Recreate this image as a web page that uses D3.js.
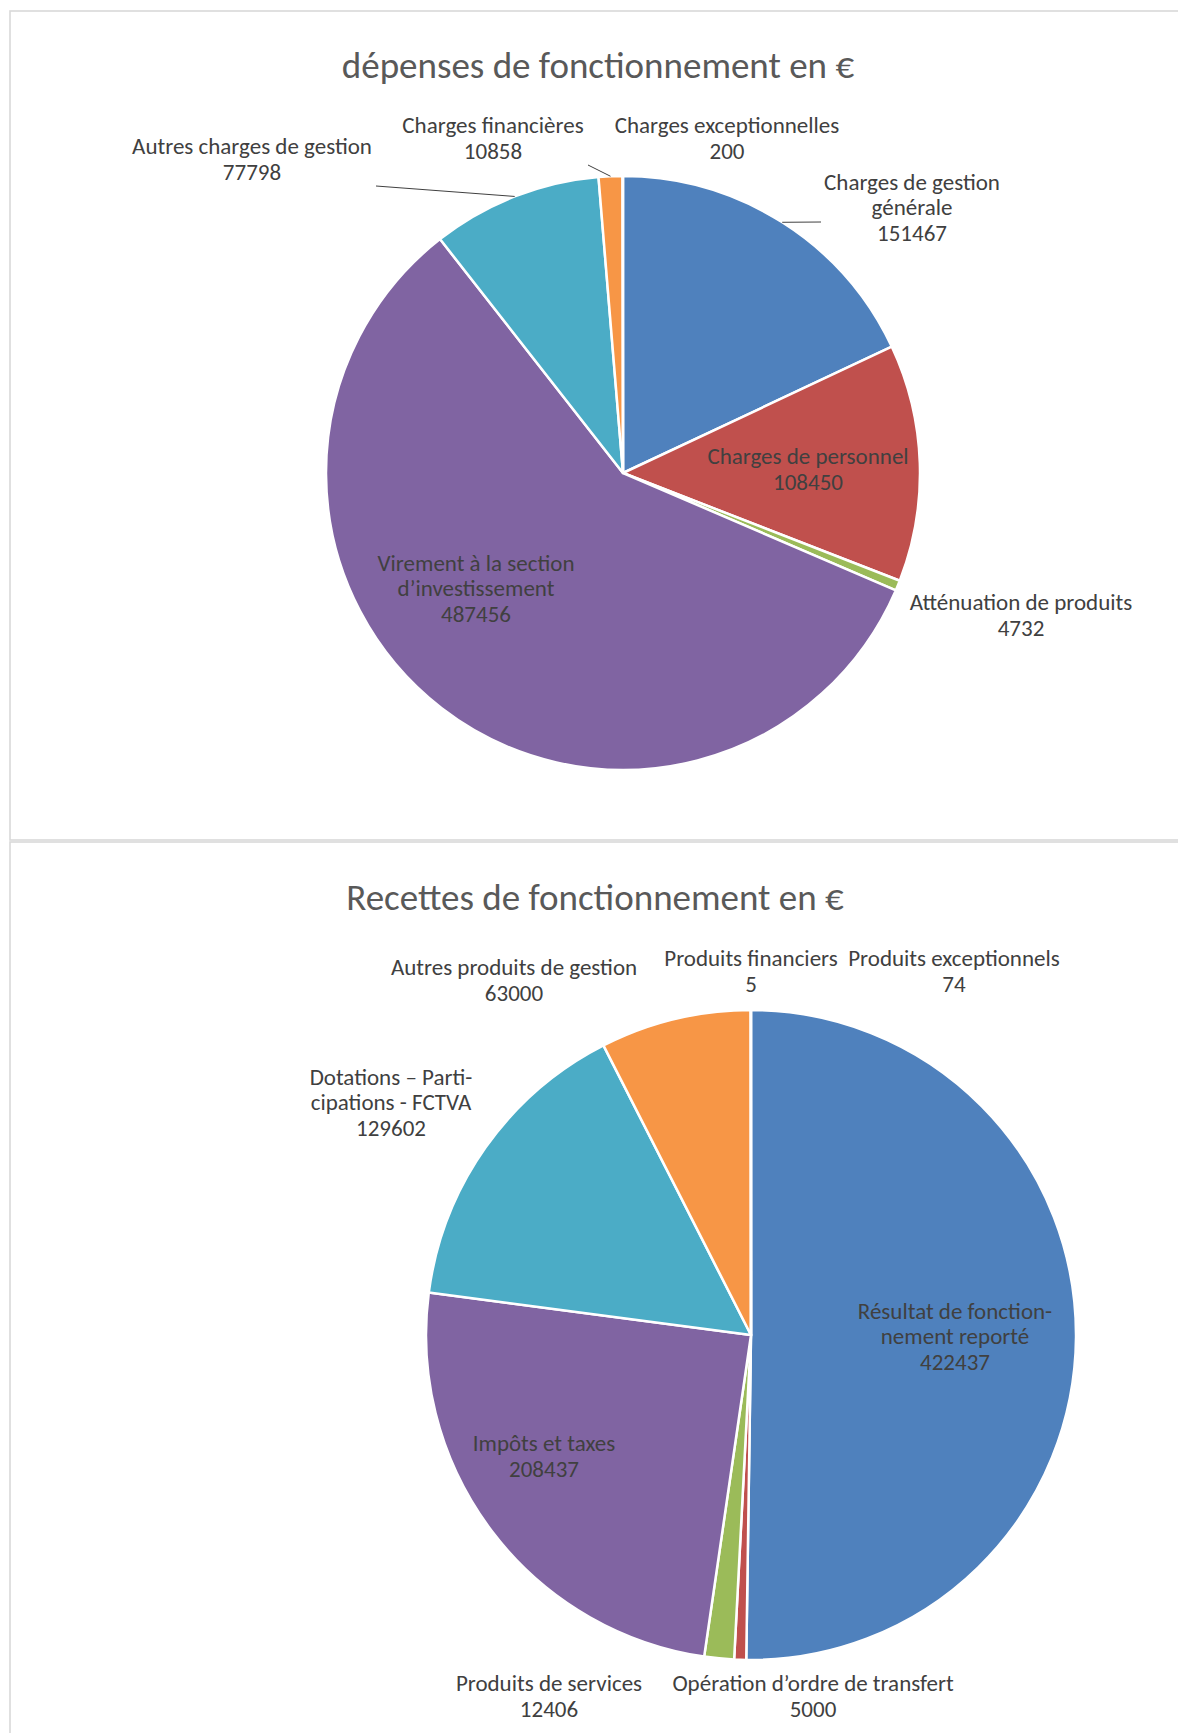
<!DOCTYPE html>
<html>
<head>
<meta charset="utf-8">
<script src="https://cdn.jsdelivr.net/npm/d3@7"></script>
<style>
  body { margin: 0; background: #fff; }
  svg { display: block; font-family: Carlito, Calibri, Lato, sans-serif; }
</style>
</head>
<body>
<svg id="chart" width="1178" height="1733"></svg>
<script>
// palette of the spreadsheet the charts came from
var palette = ['#4F81BD', '#C0504D', '#9BBB59', '#8064A2', '#4BACC6', '#F79646', '#2C4D75'];

// expenses
var depensesTitle = 'dépenses de fonctionnement en €';
var depensesCategories = [
    ['Charges de gestion', 'générale'],
    ['Charges de personnel'],
    ['Atténuation de produits'],
    ['Virement à la section', 'd’investissement'],
    ['Autres charges de gestion'],
    ['Charges financières'],
    ['Charges exceptionnelles']
];
var depensesValues = [151467, 108450, 4732, 487456, 77798, 10858, 200];

// receipts
var recettesTitle = 'Recettes de fonctionnement en €';
var recettesCategories = [
    ['Résultat de fonction-', 'nement reporté'],
    ['Opération d’ordre de transfert'],
    ['Produits de services'],
    ['Impôts et taxes'],
    ['Dotations – Parti-', 'cipations - FCTVA'],
    ['Autres produits de gestion'],
    ['Produits financiers'],
    ['Produits exceptionnels']
];
var recettesValues = [422437, 5000, 12406, 208437, 129602, 63000, 5, 74];

// label placement, offsets from the pie centre (block centre), and optional leader end
var depensesLabelPos = [[289, -266], [185, -4], [398, 142], [-147, 115], [-371, -314], [-130, -335], [104, -335]];
var depensesLeaders = [[198, -251], null, null, null, [-247, -287], [-35, -308], null];
var recettesLabelPos = [[204, 1], [62, 361], [-202, 361], [-207, 121], [-360, -233], [-237, -355], [0, -364], [203, -364]];
var recettesLeaders = [null, null, null, null, null, null, null, null];

var svg = d3.select('#chart');

// panel frames
svg.append('rect').attr('x', 10).attr('y', 11).attr('width', 1200).attr('height', 829)
    .attr('fill', 'none').attr('stroke', '#d9d9d9').attr('stroke-width', 1.6);
svg.append('rect').attr('x', 10).attr('y', 842).attr('width', 1200).attr('height', 1000)
    .attr('fill', 'none').attr('stroke', '#d9d9d9').attr('stroke-width', 1.6);

function drawPie(def) {
    var g = svg.append('g').attr('transform', 'translate(' + def.cx + ',' + def.cy + ')');
    var pie = d3.pie().sort(null).value(function (d) { return d; });
    var arc = d3.arc().innerRadius(0).outerRadius(def.r);
    var color = d3.scaleOrdinal().domain(d3.range(def.values.length)).range(palette);
    var arcs = pie(def.values);

    // title
    svg.append('text')
        .attr('x', def.titleX).attr('y', def.titleY)
        .attr('text-anchor', 'middle')
        .attr('font-size', 37)
        .attr('fill', '#595959')
        .text(def.title);

    // slices
    g.selectAll('path.slice').data(arcs).enter().append('path')
        .attr('class', 'slice')
        .attr('d', arc)
        .attr('fill', function (d, i) { return color(i); })
        .attr('stroke', '#fff')
        .attr('stroke-width', 2.5)
        .attr('stroke-linejoin', 'round');

    // leader lines from the slice edge to the label
    arcs.forEach(function (d, i) {
        var end = def.leaders[i];
        if (!end) return;
        var a = (d.startAngle + d.endAngle) / 2;
        g.append('line')
            .attr('x1', Math.sin(a) * def.r).attr('y1', -Math.cos(a) * def.r)
            .attr('x2', end[0]).attr('y2', end[1])
            .attr('stroke', '#404040').attr('stroke-width', 1);
    });

    // data labels: category lines then value
    var lineH = 25.5;
    arcs.forEach(function (d, i) {
        var lines = def.categories[i].concat([String(def.values[i])]);
        var pos = def.labelPos[i];
        var top = pos[1] - (lines.length - 1) * lineH / 2;
        var t = g.append('text')
            .attr('text-anchor', 'middle')
            .attr('font-size', 23)
            .attr('fill', '#404040');
        lines.forEach(function (s, k) {
            t.append('tspan')
                .attr('x', pos[0])
                .attr('y', top + k * lineH)
                .attr('dy', '0.35em')
                .text(s);
        });
    });
}

drawPie({
    title: depensesTitle, titleX: 598, titleY: 78,
    cx: 623, cy: 473, r: 297,
    values: depensesValues, categories: depensesCategories,
    labelPos: depensesLabelPos, leaders: depensesLeaders
});

drawPie({
    title: recettesTitle, titleX: 595, titleY: 910,
    cx: 751, cy: 1335, r: 325,
    values: recettesValues, categories: recettesCategories,
    labelPos: recettesLabelPos, leaders: recettesLeaders
});
</script>
</body>
</html>
